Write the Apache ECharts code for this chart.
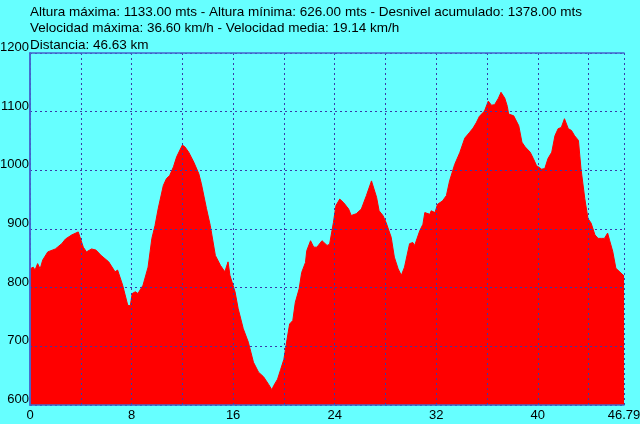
<!DOCTYPE html>
<html>
<head>
<meta charset="utf-8">
<script src="https://cdn.jsdelivr.net/npm/echarts@6/dist/echarts.min.js"></script>
<style>html,body{margin:0;padding:0;background:#66FFFF;}#c{width:640px;height:424px;}</style>
</head>
<body>
<div id="c"></div>
<script>
var titleLines = [
  'Altura máxima: 1133.00 mts - Altura mínima: 626.00 mts - Desnivel acumulado: 1378.00 mts',
  'Velocidad máxima: 36.60 km/h - Velocidad media: 19.14 km/h',
  'Distancia: 46.63 km'
];
var distances = [0,0.25,0.4,0.6,0.8,1.0,1.4,2.0,2.5,2.8,3.3,3.8,3.95,4.2,4.45,4.85,5.2,5.6,6.2,6.7,6.9,7.3,7.7,7.9,8.05,8.3,8.5,8.9,9.3,9.6,9.85,10.1,10.5,10.75,11.0,11.3,11.55,12.0,12.2,12.5,12.9,13.3,13.5,13.9,14.2,14.6,15.0,15.35,15.6,15.75,16.15,16.4,16.8,17.2,17.6,18.0,18.4,18.8,19.05,19.2,19.5,19.75,20.0,20.25,20.45,20.7,20.9,21.2,21.4,21.7,21.8,22.1,22.35,22.6,23.0,23.4,23.6,23.9,24.1,24.4,24.7,25.1,25.3,25.7,26.1,26.5,26.9,27.0,27.3,27.5,27.8,28.05,28.2,28.45,28.7,29.0,29.25,29.5,29.9,30.15,30.3,30.7,30.95,31.1,31.5,31.6,31.9,32.1,32.5,32.8,33.05,33.45,33.85,34.25,34.6,34.9,35.15,35.4,35.8,36.1,36.35,36.6,36.9,37.1,37.4,37.6,37.7,38.1,38.5,38.75,39.0,39.4,39.65,39.9,40.3,40.55,40.8,41.1,41.35,41.6,41.85,42.1,42.4,42.65,42.9,43.2,43.4,43.7,43.95,44.2,44.5,44.75,45.0,45.25,45.5,45.65,45.9,46.15,46.4,46.79];
var altitudes = [832,835,830,841,832,847,861,866,875,883,890,895,898,869,861,866,864,855,844,827,830,804,770,769,790,793,790,804,835,884,906,935,974,986,991,1006,1023,1043,1040,1031,1014,994,977,935,906,855,838,827,844,821,793,764,730,707,673,656,648,635,626,633,644,661,678,712,738,744,775,798,826,843,863,880,869,869,880,872,874,911,940,951,945,934,923,926,934,957,982,982,954,931,923,911,908,886,852,832,821,835,875,877,872,897,908,928,925,931,928,942,948,957,982,1010,1030,1055,1064,1072,1081,1092,1101,1118,1111,1112,1123,1133,1123,1109,1096,1093,1076,1048,1040,1031,1020,1008,1002,1003,1020,1031,1059,1071,1073,1088,1071,1068,1059,1051,1003,952,918,910,890,884,884,884,893,881,862,833,828,820];
var xMax = 46.79;
var xLabelStep = 8;

var data = distances.map(function(d, i){ return [d, altitudes[i]]; });
var font = 'Liberation Sans, Arial, sans-serif';
var gridColor = '#3a3aa8';
var borderColor = '#4466cc';

var chart = echarts.init(document.getElementById('c'));
chart.setOption({
  backgroundColor: '#66FFFF',
  animation: false,
  title: {
    text: titleLines.join('\n'),
    left: 30, top: 4, padding: 0,
    textStyle: {fontSize: 13.5, fontWeight: 'normal', color: '#000', fontFamily: font, lineHeight: 16.5}
  },
  grid: {left: 30, right: 16, top: 53, bottom: 19, containLabel: false, outerBoundsMode: 'none'},
  xAxis: [{
    type: 'value', min: 0, max: xMax, interval: 4, z: 5,
    axisLine: {show: true, lineStyle: {color: borderColor, width: 1.5}},
    axisTick: {show: false},
    splitLine: {show: true, lineStyle: {color: gridColor, type: [2, 3], width: 1}},
    axisLabel: {
      color: '#000', fontSize: 13, fontFamily: font, margin: 4,
      showMinLabel: true, showMaxLabel: true,
      formatter: function(v){
        if (Math.abs(v - xMax) < 1e-6) return String(xMax);
        return (Math.round(v) % xLabelStep === 0) ? String(Math.round(v)) : '';
      }
    }
  }, {
    type: 'value', min: 0, max: xMax, position: 'top', z: 5,
    axisLine: {show: true, lineStyle: {color: borderColor, width: 1.5}},
    axisTick: {show: false}, axisLabel: {show: false}, splitLine: {show: false}
  }],
  yAxis: [{
    type: 'value', min: 600, max: 1200, interval: 100, z: 5,
    axisLine: {show: true, lineStyle: {color: borderColor, width: 1.5}},
    axisTick: {show: false},
    splitLine: {show: true, lineStyle: {color: gridColor, type: [2, 3], width: 1}},
    axisLabel: {color: '#000', fontSize: 13, fontFamily: font, margin: 1, verticalAlign: 'bottom', lineHeight: 11,
      formatter: function(v){ return String(v); }}
  }, {
    type: 'value', min: 600, max: 1200, position: 'right', z: 5,
    axisLine: {show: true, lineStyle: {color: borderColor, width: 1.5}},
    axisTick: {show: false}, axisLabel: {show: false}, splitLine: {show: false}
  }],
  series: [{
    type: 'line', data: data, xAxisIndex: 0, yAxisIndex: 0,
    symbol: 'none', smooth: false, z: 2,
    lineStyle: {color: '#ff0000', width: 1},
    areaStyle: {color: '#ff0000', opacity: 1, origin: 'start'}
  }]
});
</script>
</body>
</html>
